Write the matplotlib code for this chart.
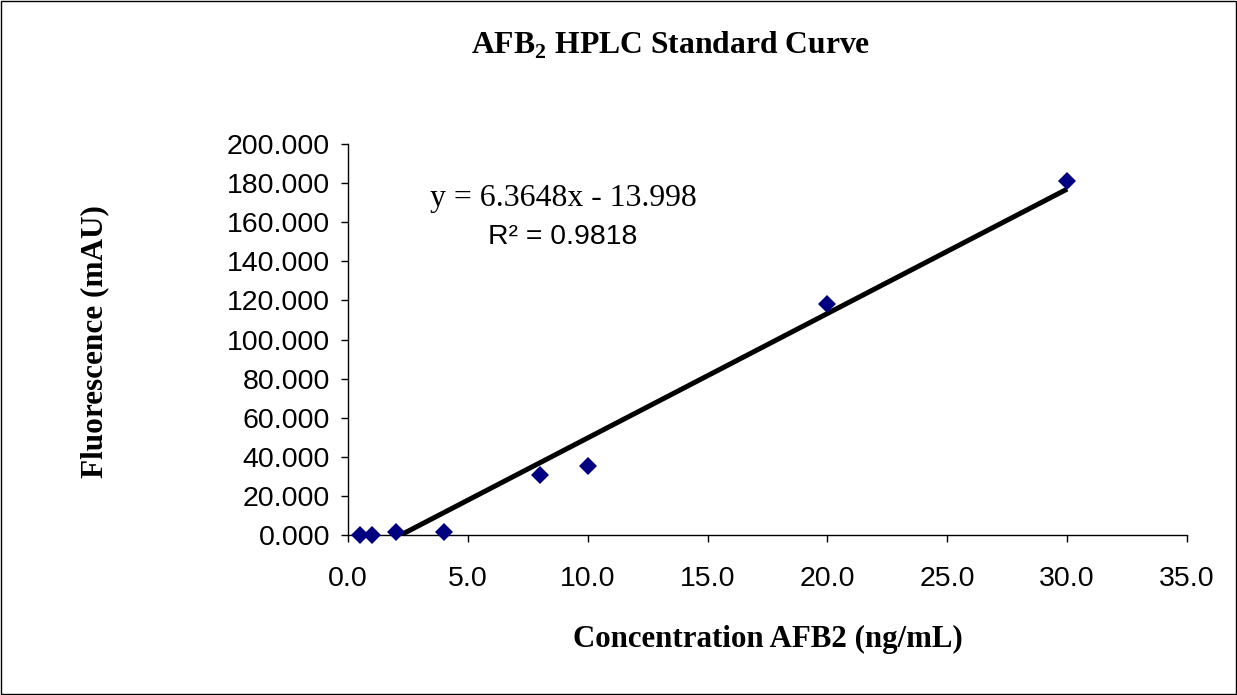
import matplotlib
matplotlib.use("Agg")
import matplotlib.pyplot as plt
import numpy as np
from matplotlib.patches import Rectangle

conc = [0.5, 1.0, 2.0, 4.0, 8.0, 10.0, 20.0, 30.0]
fluor = [0.2, 0.1, 1.5, 1.7, 30.5, 35.5, 118.0, 181.0]
slope = 6.3648
intercept = -13.998
x_ticks = [0, 5, 10, 15, 20, 25, 30, 35]
y_ticks = [0, 20, 40, 60, 80, 100, 120, 140, 160, 180, 200]

W, H = 1237, 695
fig = plt.figure(figsize=(W / 100, H / 100), dpi=100)
ax = fig.add_axes([348 / W, 1 - 535 / H, (1187 - 348) / W, (535 - 144) / H])

xs = np.array([min(conc), max(conc)])
ax.plot(xs, slope * xs + intercept, color="black", lw=3.6, solid_capstyle="butt", zorder=2)
ax.plot(conc, fluor, linestyle="none", marker="D", markersize=9.2, markeredgewidth=0,
        color="#000080", zorder=3, clip_on=False)

ax.set_xlim(0, 35)
ax.set_ylim(0, 200)
ax.set_xticks(x_ticks)
ax.set_yticks(y_ticks)
ax.set_xticklabels([f"{v:.1f}" for v in x_ticks])
ax.set_yticklabels([f"{v:.3f}" for v in y_ticks])
for s in ["top", "right"]:
    ax.spines[s].set_visible(False)
for s in ["left", "bottom"]:
    ax.spines[s].set_linewidth(1.0)
ax.tick_params(direction="out", length=5, width=1, labelsize=20.5)
ax.tick_params(axis="x", pad=17.5)
ax.tick_params(axis="y", pad=8)
for lab in ax.get_xticklabels() + ax.get_yticklabels():
    lab.set_fontfamily("Liberation Sans")

fig.text(671 / W, 1 - 54 / H, r"AFB$_\mathregular{2}$ HPLC Standard Curve", ha="center", va="baseline",
         fontsize=22.8, fontweight="bold", fontfamily="Liberation Serif")
fig.text(768 / W, 1 - 647 / H, "Concentration AFB2 (ng/mL)", ha="center", va="baseline",
         fontsize=22.2, fontweight="bold", fontfamily="Liberation Serif")
fig.text(102 / W, 1 - 342 / H, "Fluorescence (mAU)", ha="center", va="baseline", rotation=90,
         rotation_mode="anchor", fontsize=22.5, fontweight="bold", fontfamily="Liberation Serif")

fig.text(563.5 / W, 1 - 206 / H, "y = 6.3648x - 13.998", ha="center", va="baseline",
         fontsize=22.9, fontfamily="Liberation Serif")
fig.text(562.5 / W, 1 - 244 / H, "R\u00b2 = 0.9818", ha="center", va="baseline",
         fontsize=20.4, fontfamily="Liberation Sans")

fig.patches.append(Rectangle((0.0008, 0.0014), 0.9984, 0.9972, transform=fig.transFigure,
                             fill=False, edgecolor="black", lw=1.0))

fig.savefig("out.png", dpi=100)
